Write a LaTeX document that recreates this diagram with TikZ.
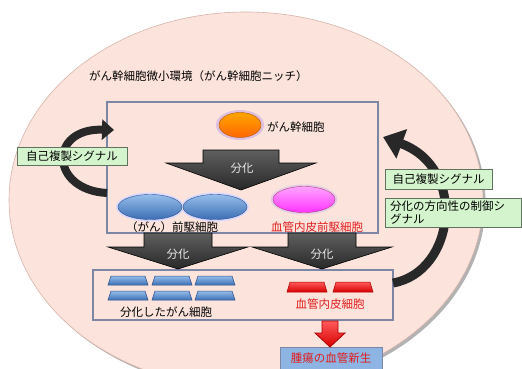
\documentclass[tikz,border=0pt]{standalone}
\usepackage{fontspec}
\setmainfont{Noto Sans CJK JP}
\usetikzlibrary{arrows.meta}
\definecolor{bgpink}{RGB}{252,228,220}
\definecolor{bgedge}{RGB}{215,180,170}
\definecolor{boxline}{RGB}{125,135,165}
\definecolor{greenfill}{RGB}{212,244,205}
\definecolor{greenline}{RGB}{95,115,95}
\definecolor{arrowtop}{RGB}{95,95,95}
\definecolor{arrowbot}{RGB}{40,40,40}
\definecolor{redtxt}{RGB}{225,30,30}
\definecolor{bluebox}{RGB}{141,180,226}
\definecolor{celltop}{RGB}{150,190,235}
\definecolor{cellbot}{RGB}{60,110,180}
\definecolor{cellline}{RGB}{45,80,140}
\definecolor{redtop}{RGB}{255,90,90}
\definecolor{redbot}{RGB}{215,0,0}
\definecolor{redline}{RGB}{170,0,0}
\definecolor{arcgray}{RGB}{40,40,40}
\newcommand\FlowArrow[6]{%
  \path[blockarrow] (#1-#5,#2) -- (#1+#5,#2) -- (#1+#5,#3) -- (#1+#6,#3) -- (#1,#4) -- (#1-#6,#3) -- (#1-#5,#3) -- cycle;}
\newcommand\CellBar[4]{%
  \path[#4] (#1,#2+#3) -- (#1+3,#2) -- (#1+37,#2) -- (#1+40,#2+#3) -- cycle;}
\tikzset{
  blockarrow/.style={top color=arrowtop, bottom color=arrowbot, draw=black, line width=0.6pt},
  redarrow/.style={top color=redtop, bottom color=redbot, draw=redline, line width=0.8pt},
  framebox/.style={draw=boxline, line width=1.3pt, inner sep=0pt},
  greenbox/.style={draw=greenline, fill=greenfill, line width=0.7pt, inner sep=2pt},
  bluecell/.style={top color=celltop, bottom color=cellbot, draw=cellline, line width=0.5pt},
  redcell/.style={top color=redtop, bottom color=redbot, draw=redline, line width=0.5pt},
  arctxt/.style={text=black!8, inner sep=0pt},
  lbl/.style={inner sep=0pt},
  bigarc/.style={draw=arcgray, line width=#1},
}
\begin{document}
\begin{tikzpicture}[x=1pt,y=-1pt,font=\fontsize{11.5}{13.5}\selectfont]
\useasboundingbox (0,0) rectangle (522,369);
\clip (0,0) rectangle (522,369);
\fill[white] (0,0) rectangle (522,369);
% background ellipse
\fill[black!30] (248.5,202.5) ellipse [x radius=237, y radius=188];
\fill[bgpink] (246,200) ellipse [x radius=237, y radius=188];
\draw[bgedge, line width=0.6pt] (246,200) ellipse [x radius=237, y radius=188];
\node[lbl, anchor=west] (title) at (89,76) {がん幹細胞微小環境（がん幹細胞ニッチ）};
% frames
\node[framebox, minimum width=271pt, minimum height=131pt] (ubox) at (242.5,167.5) {};
\node[framebox, minimum width=300pt, minimum height=50pt] (lbox) at (243,295) {};
\node[draw=boxline, fill=bluebox, line width=1pt, minimum width=102pt, minimum height=24pt, inner sep=0pt] (bbox) at (331,359) {};
\node[lbl, text=redtxt] at (331,358) {腫瘍の血管新生};
% block arrows
\FlowArrow{241}{150}{163}{190}{38}{75}
\node[arctxt] (d1) at (242,168) {分化};
\FlowArrow{178}{233}{247}{269}{34}{70}
\node[arctxt] (d2) at (178,254) {分化};
\FlowArrow{322}{233}{247}{269}{34}{70}
\node[arctxt] (d3) at (322,254) {分化};
% red arrow
\path[redarrow] (322,321) -- (338,321) -- (338,333) -- (345,333) -- (330,347) -- (315,333) -- (322,333) -- cycle;
% arcs
\coordinate (la) at (107,193);
\coordinate (lb) at (114,130);
\draw[bigarc=8pt, -{Triangle[length=12pt,width=20pt]}] (la) .. controls (50,190) and (48,128) .. (lb);
\coordinate (ra) at (393,283);
\coordinate (rb) at (383,137);
\draw[bigarc=9pt, -{Triangle[length=20pt,width=30pt]}] (ra) .. controls (455,272) and (468,168) .. (rb);
% green boxes
\node[greenbox, minimum width=110pt, minimum height=18pt] (g1) at (72,156) {自己複製シグナル};
\node[greenbox, minimum width=107pt, minimum height=20pt] (g2) at (438.5,179) {自己複製シグナル};
\node[greenbox, minimum width=136pt, minimum height=29pt, text width=126pt, align=left, font=\fontsize{11.5}{13}\selectfont] (g3) at (453,212.5) {分化の方向性の制御シ\\グナル};
% stem cell
\fill[violet!25] (240,125) ellipse [x radius=24, y radius=15];
\shade[top color=orange!70!yellow, bottom color=orange!80!red, draw=orange!70!black, line width=0.4pt] (240,125) ellipse [x radius=21, y radius=12.5];
\node[lbl, anchor=west] (sc) at (267,127) {がん幹細胞};
% progenitor cells
\fill[blue!15] (150,207) ellipse [x radius=34, y radius=14.5];
\fill[blue!15] (215,207) ellipse [x radius=34, y radius=14.5];
\shade[top color=celltop, bottom color=cellbot, draw=cellline, line width=0.4pt] (150,207) ellipse [x radius=32, y radius=12.5];
\shade[top color=celltop, bottom color=cellbot, draw=cellline, line width=0.4pt] (215,207) ellipse [x radius=32, y radius=12.5];
\fill[violet!20] (304,199.5) ellipse [x radius=33.5, y radius=15];
\shade[top color=magenta!35, bottom color=magenta!80, draw=magenta!70!black, line width=0.4pt] (304,199.5) ellipse [x radius=31, y radius=13];
\node[lbl] (pc) at (172,227.5) {（がん）前駆細胞};
\node[lbl, text=redtxt] (epc) at (317,227.5) {血管内皮前駆細胞};
% differentiated cells
\foreach \cx in {108,152,195}{
  \foreach \cy in {276,291}{ \CellBar{\cx}{\cy}{9}{bluecell} }}
\node[lbl] (dc) at (166,312) {分化したがん細胞};
\CellBar{287}{282}{10}{redcell}
\CellBar{333}{282}{10}{redcell}
\node[lbl, text=redtxt] (ec) at (330,304) {血管内皮細胞};
\end{tikzpicture}
\end{document}
